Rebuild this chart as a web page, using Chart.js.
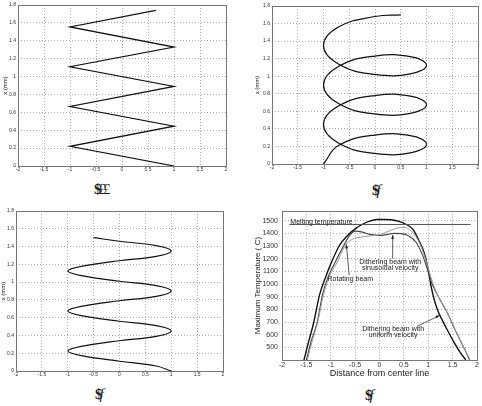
<!DOCTYPE html>
<html>
<head>
<meta charset="utf-8">
<script src="https://cdn.jsdelivr.net/npm/chart.js@4.4.0/dist/chart.umd.min.js"></script>
<style>
body { margin: 0; background: #fff; width: 482px; height: 406px; position: relative; overflow: hidden; }
canvas { position: absolute; }
.cap { position: absolute; font-family: "Liberation Serif", serif; font-size: 15px; color: #222; letter-spacing: -3px; line-height: 15px; }
.cap i { letter-spacing: 0; }
</style>
</head>
<body>
<canvas id="plot_a" width="232" height="176" style="left:0px;top:0px"></canvas>
<canvas id="plot_b" width="241" height="174" style="left:241px;top:0px"></canvas>
<canvas id="plot_c" width="232" height="178" style="left:0px;top:203px"></canvas>
<canvas id="plot_d" width="241" height="180" style="left:241px;top:203px"></canvas>
<div class="cap" style="left:94px;top:182px"><b>$</b>££</div>
<div class="cap" style="left:372px;top:183px"><b>$</b><i>f</i></div>
<div class="cap" style="left:95px;top:387px"><b>$</b><i>f</i></div>
<div class="cap" style="left:365px;top:388px"><b>$</b><i>f</i></div>
<script>
// tick labels
const xTicks = [-2, -1.5, -1, -0.5, 0, 0.5, 1, 1.5, 2];
const yTicksMm = [0, 0.2, 0.4, 0.6, 0.8, 1, 1.2, 1.4, 1.6, 1.8];
const yTicksTemp = [500, 600, 700, 800, 900, 1000, 1100, 1200, 1300, 1400, 1500];

// (a) zigzag path
const zigX = [1, -1, 1, -1, 1, -1, 1, -1, 0.65];
const zigY = [0, 0.22, 0.445, 0.665, 0.89, 1.11, 1.33, 1.555, 1.74];

// (b) looping path
const loopX = [-1, -0.71, 0, 0.71, 1, 0.71, 0, -0.71,
               -1, -0.71, 0, 0.71, 1, 0.71, 0, -0.71,
               -1, -0.71, 0, 0.71, 1, 0.71, 0, -0.71,
               -1, -0.71, 0, 0.5];
const loopY = [0, 0.21, 0.33, 0.32, 0.225, 0.13, 0.12, 0.24,
               0.45, 0.66, 0.78, 0.77, 0.675, 0.58, 0.57, 0.69,
               0.9, 1.11, 1.23, 1.22, 1.125, 1.03, 1.02, 1.14,
               1.35, 1.56, 1.68, 1.7];

// (c) sine path
const waveX = [1, 0.71, 0, -0.71, -1, -0.71, 0, 0.71,
               1, 0.71, 0, -0.71, -1, -0.71, 0, 0.71,
               1, 0.71, 0, -0.71, -1, -0.71, 0, 0.71,
               1, 0.71, 0, -0.5];
const waveY = [0, 0.056, 0.11, 0.17, 0.225, 0.28, 0.34, 0.39,
               0.45, 0.51, 0.56, 0.62, 0.675, 0.73, 0.79, 0.84,
               0.9, 0.96, 1.01, 1.07, 1.125, 1.18, 1.24, 1.29,
               1.35, 1.41, 1.46, 1.5];

// (d) temperature profiles
const uniformX = [-1.55, -1.45, -1.35, -1.23, -1.1, -1.01, -0.82, -0.65, -0.5, -0.35, -0.2, -0.05, 0.1, 0.25, 0.4, 0.55, 0.69, 0.8, 0.93, 1.0, 1.07, 1.15, 1.23, 1.3, 1.38, 1.5, 1.62, 1.77];
const uniformY = [400, 550, 694, 914, 1060, 1149, 1306, 1385, 1435, 1472, 1497, 1509, 1510, 1507, 1494, 1470, 1430, 1350, 1230, 1110, 960, 840, 760, 705, 645, 560, 480, 400];
const sinusX = [-1.5, -1.4, -1.28, -1.17, -1.05, -0.94, -0.73, -0.6, -0.5, -0.35, -0.2, 0, 0.15, 0.3, 0.45, 0.6, 0.75, 0.88, 0.98, 1.07, 1.14, 1.25, 1.36, 1.55, 1.75, 1.85];
const sinusY = [400, 550, 694, 914, 1060, 1149, 1306, 1390, 1418, 1410, 1392, 1383, 1390, 1400, 1398, 1380, 1330, 1230, 1120, 1010, 950, 870, 796, 639, 482, 400];
const rotateX = [-1.48, -1.38, -1.27, -1.15, -1.03, -0.9, -0.7, -0.55, -0.4, -0.2, 0, 0.2, 0.35, 0.5, 0.6, 0.72, 0.85, 0.95, 1.05, 1.14, 1.25, 1.36, 1.55, 1.75, 1.86];
const rotateY = [400, 550, 694, 914, 1060, 1149, 1306, 1355, 1370, 1380, 1390, 1420, 1440, 1448, 1432, 1390, 1300, 1190, 1060, 960, 870, 796, 640, 485, 400];
const meltX = [-1.85, 1.87];
const meltY = [1470, 1470];

function toPoints(xs, ys) {
    return xs.map(function (x, i) {
        return { x: x, y: ys[i] };
    });
}

// MATLAB style box around the axes
const boxPlugin = {
    id: 'box',
    afterDraw: function (chart) {
        const a = chart.chartArea;
        const ctx = chart.ctx;
        ctx.save();
        ctx.strokeStyle = '#777';
        ctx.lineWidth = 1;
        ctx.strokeRect(Math.round(a.left) + 0.5, Math.round(a.top) + 0.5,
            Math.round(a.right - a.left), Math.round(a.bottom - a.top));
        ctx.restore();
    }
};

function axisX(height, fontSize, title) {
    return {
        type: 'linear',
        min: -2,
        max: 2,
        afterBuildTicks: function (scale) {
            scale.ticks = xTicks.map(function (v) { return { value: v }; });
        },
        afterFit: function (scale) { scale.height = height; },
        grid: { color: '#aaa', drawTicks: false },
        border: { display: false, dash: [1, 2] },
        ticks: {
            color: '#333',
            font: { family: 'Liberation Sans', size: fontSize },
            padding: 1,
            maxRotation: 0,
            autoSkip: false,
            callback: function (v) { return String(v); }
        },
        title: title
    };
}

function axisY(width, min, max, ticks, fontSize, title) {
    return {
        type: 'linear',
        min: min,
        max: max,
        afterBuildTicks: function (scale) {
            scale.ticks = ticks.map(function (v) { return { value: v }; });
        },
        afterFit: function (scale) { scale.width = width; },
        grid: { color: '#aaa', drawTicks: false },
        border: { display: false, dash: [1, 2] },
        ticks: {
            color: '#333',
            font: { family: 'Liberation Sans', size: fontSize },
            padding: fontSize > 6 ? 4 : 2,
            autoSkip: false,
            callback: function (v) { return String(v); }
        },
        title: title
    };
}

function mmTitle(pad) {
    return {
        display: true,
        text: 'x (mm)',
        color: '#222',
        font: { family: 'Liberation Sans', size: 6 },
        padding: { top: pad, bottom: 0 }
    };
}

function pathChart(id, xs, ys, tension, yWidth, titlePad, layoutPad) {
    return new Chart(document.getElementById(id), {
        type: 'scatter',
        data: {
            datasets: [{
                data: toPoints(xs, ys),
                showLine: true,
                borderColor: '#111',
                borderWidth: 1.2,
                pointRadius: 0,
                tension: tension
            }]
        },
        options: {
            responsive: false,
            animation: false,
            devicePixelRatio: 1,
            layout: { padding: layoutPad },
            plugins: { legend: { display: false }, tooltip: { enabled: false } },
            scales: {
                x: axisX(10, 5, { display: false }),
                y: axisY(yWidth, 0, 1.8, yTicksMm, 5, mmTitle(titlePad))
            }
        },
        plugins: [boxPlugin]
    });
}

pathChart('plot_a', zigX, zigY, 0, 18, 1.5, { left: 0, top: 5, right: 6, bottom: 0 });
pathChart('plot_b', loopX, loopY, 0.45, 31, 13, { left: 0, top: 6, right: 4, bottom: 0 });
pathChart('plot_c', waveX, waveY, 0.4, 16, 0, { left: 0, top: 8, right: 9, bottom: 0 });

// notes and arrows for (d), placed in data units
const notes = [
    { text: 'Melting temperature', x: -1.19, y: 1492 },
    { text: 'Dithering beam with', x: 0.22, y: 1170 },
    { text: 'sinusoidal velocity', x: 0.22, y: 1126 },
    { text: 'Rotating beam', x: -0.6, y: 1042 },
    { text: 'Dithering beam with', x: 0.28, y: 641 },
    { text: 'uniform velocity', x: 0.28, y: 597 }
];
const arrows = [
    { from: [0.27, 1200], to: [0.27, 1387] },
    { from: [-0.62, 1068], to: [-0.68, 1311] },
    { from: [0.78, 668], to: [1.23, 751] }
];

const notePlugin = {
    id: 'notes',
    afterDatasetsDraw: function (chart) {
        const ctx = chart.ctx;
        const sx = chart.scales.x;
        const sy = chart.scales.y;
        ctx.save();
        ctx.fillStyle = '#222';
        ctx.font = '7px "Liberation Sans"';
        ctx.textAlign = 'center';
        ctx.textBaseline = 'middle';
        notes.forEach(function (n) {
            ctx.fillText(n.text, sx.getPixelForValue(n.x), sy.getPixelForValue(n.y));
        });
        ctx.strokeStyle = '#333';
        ctx.lineWidth = 0.8;
        arrows.forEach(function (a) {
            const x1 = sx.getPixelForValue(a.from[0]);
            const y1 = sy.getPixelForValue(a.from[1]);
            const x2 = sx.getPixelForValue(a.to[0]);
            const y2 = sy.getPixelForValue(a.to[1]);
            const ang = Math.atan2(y2 - y1, x2 - x1);
            ctx.beginPath();
            ctx.moveTo(x1, y1);
            ctx.lineTo(x2, y2);
            ctx.stroke();
            ctx.beginPath();
            ctx.moveTo(x2, y2);
            ctx.lineTo(x2 - 4 * Math.cos(ang - 0.4), y2 - 4 * Math.sin(ang - 0.4));
            ctx.lineTo(x2 - 4 * Math.cos(ang + 0.4), y2 - 4 * Math.sin(ang + 0.4));
            ctx.closePath();
            ctx.fill();
        });
        ctx.restore();
    }
};

new Chart(document.getElementById('plot_d'), {
    type: 'scatter',
    data: {
        datasets: [{
            label: 'Melting temperature',
            data: toPoints(meltX, meltY),
            showLine: true,
            borderColor: '#555',
            borderWidth: 1,
            pointRadius: 0
        }, {
            label: 'Rotating beam',
            data: toPoints(rotateX, rotateY),
            showLine: true,
            borderColor: '#999',
            borderWidth: 1,
            pointRadius: 0,
            cubicInterpolationMode: 'monotone'
        }, {
            label: 'Dithering beam with sinusoidal velocity',
            data: toPoints(sinusX, sinusY),
            showLine: true,
            borderColor: '#444',
            borderWidth: 1.1,
            pointRadius: 0,
            cubicInterpolationMode: 'monotone'
        }, {
            label: 'Dithering beam with uniform velocity',
            data: toPoints(uniformX, uniformY),
            showLine: true,
            borderColor: '#111',
            borderWidth: 1.4,
            pointRadius: 0,
            cubicInterpolationMode: 'monotone'
        }]
    },
    options: {
        responsive: false,
        animation: false,
        devicePixelRatio: 1,
        layout: { padding: { left: 0, top: 8, right: 5, bottom: 0 } },
        plugins: { legend: { display: false }, tooltip: { enabled: false } },
        scales: {
            x: axisX(23, 7, {
                display: true,
                text: 'Distance from center line',
                color: '#222',
                font: { family: 'Liberation Sans', size: 9 },
                padding: { top: 0, bottom: 4 }
            }),
            y: axisY(41, 400, 1575, yTicksTemp, 7, {
                display: true,
                text: 'Maximum Temperature ( C)',
                color: '#222',
                font: { family: 'Liberation Sans', size: 8 },
                padding: { top: 12, bottom: 0 }
            })
        }
    },
    plugins: [boxPlugin, notePlugin]
});
</script>
</body>
</html>
